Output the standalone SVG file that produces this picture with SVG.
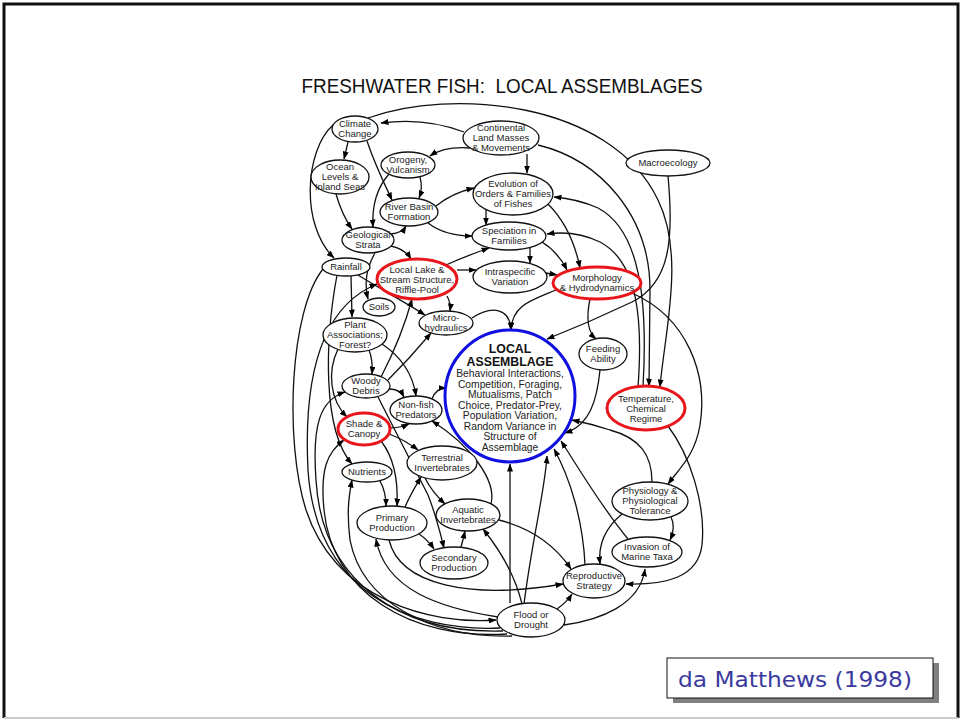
<svg xmlns="http://www.w3.org/2000/svg" width="961" height="720" viewBox="0 0 961 720">
<defs>
<marker id="a" markerWidth="8" markerHeight="6" refX="7.5" refY="3" orient="auto" markerUnits="userSpaceOnUse"><path d="M0,0 L8,3 L0,6 z" fill="#000"/></marker>
<style>
.n ellipse{fill:#fff;stroke:#111;stroke-width:1.3}
.r ellipse{stroke:#e8161b;stroke-width:3}
.b ellipse{stroke:#1010e0;stroke-width:3}
text{font-family:"Liberation Sans",Arial,sans-serif;font-size:9.5px;text-anchor:middle;fill:#222}
.c path{fill:none;stroke:#111;stroke-width:1.3;marker-end:url(#a)}
.c path.p{marker-end:none}
</style>
</defs>
<rect width="961" height="720" fill="#fff"/>
<path d="M4,718 V4 H958 V718" fill="none" stroke="#111" stroke-width="3"/>
<line x1="4" y1="718" x2="958" y2="718" stroke="#ccc" stroke-width="2"/>
<text x="502" y="93" xml:space="preserve" style="font-size:20px;fill:#111" textLength="401" lengthAdjust="spacingAndGlyphs">FRESHWATER FISH:  LOCAL ASSEMBLAGES</text>

<g id="connectors" class="c">
<path d="M464,132 Q425,117 381,123"/>
<path d="M348,142 L344,159"/>
<path d="M367,141 C375,165 385,185 392,200"/>
<path d="M333,125 C305,150 300,225 334,258"/>
<path d="M470,148 Q445,146 430,156"/>
<path d="M527,154 L527,173"/>
<path d="M420,177 Q423,188 419,198"/>
<path d="M389,174 C375,190 372,210 373,227"/>
<path d="M336,194 Q342,215 352,229"/>
<path d="M436,206 Q452,193 474,188"/>
<path d="M428,223 Q445,236 472,236"/>
<path d="M391,234 Q402,233 406,226"/>
<path d="M391,246 Q405,249 411,259"/>
<path d="M375,253 Q362,275 368,299"/>
<path d="M486,209 L486,225"/>
<path d="M446,265 Q466,256 489,248"/>
<path d="M457,270 L476,270"/>
<path d="M530,248 L530,263"/>
<path d="M542,242 Q558,252 567,270"/>
<path d="M548,204 Q572,228 580,268"/>
<path d="M546,273 L557,275"/>
<path d="M368,118 C450,88 610,100 658,200 C685,255 665,330 660,387"/>
<path d="M538,145 C600,160 650,215 650,290 L649,386"/>
<path d="M668,176 C674,240 670,283 632,302 Q590,322 547,339"/>
<path class="p" d="M643,387 C648,300 640,230 598,208"/>
<path d="M598,208 Q578,199 554,197"/>
<path d="M638,387 C643,320 638,262 600,242 Q575,230 547,234"/>
<path d="M590,299 C586,318 588,332 596,339"/>
<path d="M632,293 C688,318 708,375 700,425 C695,455 680,468 668,484"/>
<path d="M652,482 C652,455 640,438 610,430 Q592,424 572,420"/>
<path d="M668,426 C690,455 706,505 702,545 C698,578 665,585 626,584"/>
<path d="M600,370 C597,400 590,425 565,433"/>
<path d="M628,539 C600,505 580,470 561,441"/>
<path d="M585,565 C583,520 570,478 554,449"/>
<path d="M524,604 C532,540 545,490 547,456"/>
<path d="M510,603 L510,464"/>
<path d="M557,609 Q567,602 572,594"/>
<path d="M564,625 C600,620 640,605 645,569"/>
<path d="M622,514 C605,528 598,545 600,564"/>
<path d="M671,517 Q676,527 670,540"/>
<path d="M351,276 L352,317"/>
<path d="M358,275 C382,290 405,302 425,315"/>
<path d="M447,296 Q451,303 450,311"/>
<path d="M381,377 C395,350 405,325 412,299"/>
<path d="M388,380 Q410,358 431,333"/>
<path d="M389,389 Q400,389 404,397"/>
<path d="M369,350 Q373,360 372,374"/>
<path d="M382,344 C403,358 413,375 416,396"/>
<path d="M338,349 C327,372 330,400 347,417"/>
<path d="M389,428 Q400,428 409,424"/>
<path d="M389,434 Q405,440 418,450"/>
<path d="M432,399 Q436,388 446,388"/>
<path d="M472,318 C492,305 510,308 511,330"/>
<path d="M556,290 C532,300 512,305 511,330"/>
<path d="M337,275 C325,340 322,430 352,464"/>
<path d="M380,481 Q386,492 386,506"/>
<path d="M381,441 C396,460 398,485 397,506"/>
<path d="M405,507 C410,495 415,487 421,477"/>
<path d="M425,478 Q432,492 445,504"/>
<path d="M378,397 C400,440 415,470 428,495 C436,515 440,532 444,548"/>
<path d="M419,534 Q428,540 434,549"/>
<path d="M461,547 Q463,540 465,531"/>
<path d="M522,604 C515,575 500,550 483,529"/>
<path d="M499,520 C530,528 555,545 571,569"/>
<path d="M491,504 C497,480 470,445 432,421"/>
<path d="M389,540 C400,585 470,600 563,584"/>
<path d="M498,617 C440,608 385,590 376,539"/>
<path d="M323,269 C290,310 284,440 306,510 C336,600 430,625 496,620"/>
<path d="M500,628 C410,632 316,592 308,470 C303,370 325,305 377,284"/>
<path d="M503,631 C400,634 322,582 316,480 C312,425 320,400 345,392"/>
<path d="M507,634 C410,640 332,592 324,510 C320,470 327,452 344,440"/>
<path d="M512,636 C430,638 362,602 350,540 C347,515 348,500 352,480"/>
</g>

<g id="climate-change" class="n"><ellipse cx="355" cy="129" rx="23" ry="13"/><text><tspan x="355" y="127.3">Climate</tspan><tspan x="355" y="137.3">Change</tspan></text></g>
<g id="continental" class="n"><ellipse cx="501" cy="138" rx="38" ry="17"/><text><tspan x="501" y="131.3">Continental</tspan><tspan x="501" y="141.3">Land Masses</tspan><tspan x="501" y="151.3">&amp; Movements</tspan></text></g>
<g id="macroecology" class="n"><ellipse cx="668" cy="163" rx="42" ry="13"/><text x="668" y="166.3">Macroecology</text></g>
<g id="ocean-levels" class="n"><ellipse cx="340" cy="177" rx="29" ry="17"/><text><tspan x="340" y="170.3">Ocean</tspan><tspan x="340" y="180.3">Levels &amp;</tspan><tspan x="340" y="190.3">Inland Seas</tspan></text></g>
<g id="orogeny" class="n"><ellipse cx="408" cy="165" rx="27" ry="13"/><text><tspan x="408" y="163.3">Orogeny,</tspan><tspan x="408" y="173.3">Vulcanism</tspan></text></g>
<g id="evolution" class="n"><ellipse cx="513" cy="194" rx="40" ry="21"/><text><tspan x="513" y="187.3">Evolution of</tspan><tspan x="513" y="197.3">Orders &amp; Families</tspan><tspan x="513" y="207.3">of Fishes</tspan></text></g>
<g id="river-basin" class="n"><ellipse cx="409" cy="212" rx="29" ry="14"/><text><tspan x="409" y="210.3">River Basin</tspan><tspan x="409" y="220.3">Formation</tspan></text></g>
<g id="geological-strata" class="n"><ellipse cx="368" cy="240" rx="26" ry="13"/><text><tspan x="368" y="238.3">Geological</tspan><tspan x="368" y="248.3">Strata</tspan></text></g>
<g id="speciation" class="n"><ellipse cx="509" cy="236" rx="37" ry="14"/><text><tspan x="509" y="234.3">Speciation in</tspan><tspan x="509" y="244.3">Families</tspan></text></g>
<g id="rainfall" class="n"><ellipse cx="346" cy="267" rx="24" ry="9"/><text x="346" y="270.3">Rainfall</text></g>
<g id="local-lake" class="n r"><ellipse cx="417" cy="279" rx="40" ry="20"/><text><tspan x="417" y="273.3">Local Lake &amp;</tspan><tspan x="417" y="283.3">Stream Structure,</tspan><tspan x="417" y="293.3">Riffle-Pool</tspan></text></g>
<g id="intraspecific" class="n"><ellipse cx="510" cy="277" rx="37" ry="16"/><text><tspan x="510" y="275.3">Intraspecific</tspan><tspan x="510" y="285.3">Variation</tspan></text></g>
<g id="morphology" class="n r"><ellipse cx="597" cy="283" rx="44" ry="16"/><text><tspan x="597" y="281.3">Morphology</tspan><tspan x="597" y="291.3">&amp; Hydrodynamics</tspan></text></g>
<g id="soils" class="n"><ellipse cx="379" cy="307" rx="16" ry="9"/><text x="379" y="310.3">Soils</text></g>
<g id="micro-hydraulics" class="n"><ellipse cx="446" cy="323" rx="27" ry="12"/><text><tspan x="446" y="321.3">Micro-</tspan><tspan x="446" y="331.3">hydraulics</tspan></text></g>
<g id="plant-associations" class="n"><ellipse cx="355" cy="335" rx="32" ry="17"/><text><tspan x="355" y="328.3">Plant</tspan><tspan x="355" y="338.3">Associations;</tspan><tspan x="355" y="348.3">Forest?</tspan></text></g>
<g id="local-assemblage" class="n b"><ellipse cx="510" cy="396" rx="65" ry="66"/>
<text style="font-size:12.3px;font-weight:bold;fill:#111"><tspan x="510" y="352.5">LOCAL</tspan><tspan x="510" y="365.5">ASSEMBLAGE</tspan></text>
<text style="font-size:10.3px"><tspan x="510" y="377">Behavioral Interactions,</tspan><tspan x="510" y="387.5">Competition, Foraging,</tspan><tspan x="510" y="398">Mutualisms, Patch</tspan><tspan x="510" y="408.5">Choice, Predator-Prey,</tspan><tspan x="510" y="419">Population Variation,</tspan><tspan x="510" y="429.5">Random Variance in</tspan><tspan x="510" y="440">Structure of</tspan><tspan x="510" y="450.5">Assemblage</tspan></text></g>
<g id="feeding-ability" class="n"><ellipse cx="603" cy="354" rx="24" ry="16"/><text><tspan x="603" y="352.3">Feeding</tspan><tspan x="603" y="362.3">Ability</tspan></text></g>
<g id="woody-debris" class="n"><ellipse cx="366" cy="386" rx="24" ry="12"/><text><tspan x="366" y="384.3">Woody</tspan><tspan x="366" y="394.3">Debris</tspan></text></g>
<g id="non-fish-predators" class="n"><ellipse cx="416" cy="410" rx="26" ry="14"/><text><tspan x="416" y="408.3">Non-fish</tspan><tspan x="416" y="418.3">Predators</tspan></text></g>
<g id="temperature" class="n r"><ellipse cx="646" cy="408" rx="39" ry="22"/><text><tspan x="646" y="402.3">Temperature,</tspan><tspan x="646" y="412.3">Chemical</tspan><tspan x="646" y="422.3">Regime</tspan></text></g>
<g id="shade-canopy" class="n r"><ellipse cx="364" cy="429" rx="26" ry="16"/><text><tspan x="364" y="427.3">Shade &amp;</tspan><tspan x="364" y="437.3">Canopy</tspan></text></g>
<g id="terrestrial-invertebrates" class="n"><ellipse cx="442" cy="463" rx="35" ry="17"/><text><tspan x="442" y="461.3">Terrestrial</tspan><tspan x="442" y="471.3">Invertebrates</tspan></text></g>
<g id="nutrients" class="n"><ellipse cx="367" cy="472" rx="25" ry="10"/><text x="367" y="475.3">Nutrients</text></g>
<g id="physiology" class="n"><ellipse cx="650" cy="501" rx="38" ry="19"/><text><tspan x="650" y="494.3">Physiology &amp;</tspan><tspan x="650" y="504.3">Physiological</tspan><tspan x="650" y="514.3">Tolerance</tspan></text></g>
<g id="primary-production" class="n"><ellipse cx="392" cy="523" rx="35" ry="17"/><text><tspan x="392" y="521.3">Primary</tspan><tspan x="392" y="531.3">Production</tspan></text></g>
<g id="aquatic-invertebrates" class="n"><ellipse cx="468" cy="515" rx="32" ry="16"/><text><tspan x="468" y="513.3">Aquatic</tspan><tspan x="468" y="523.3">Invertebrates</tspan></text></g>
<g id="invasion-marine-taxa" class="n"><ellipse cx="647" cy="552" rx="35" ry="15"/><text><tspan x="647" y="550.3">Invasion of</tspan><tspan x="647" y="560.3">Marine Taxa</tspan></text></g>
<g id="secondary-production" class="n"><ellipse cx="454" cy="563" rx="34" ry="16"/><text><tspan x="454" y="561.3">Secondary</tspan><tspan x="454" y="571.3">Production</tspan></text></g>
<g id="reproductive-strategy" class="n"><ellipse cx="594" cy="581" rx="31" ry="17"/><text><tspan x="594" y="579.3">Reproductive</tspan><tspan x="594" y="589.3">Strategy</tspan></text></g>
<g id="flood-drought" class="n"><ellipse cx="531" cy="620" rx="34" ry="17"/><text><tspan x="531" y="618.3">Flood or</tspan><tspan x="531" y="628.3">Drought</tspan></text></g>

<g id="caption">
<rect x="673" y="663" width="266" height="40" fill="#808080"/>
<rect x="667" y="658" width="266" height="40" fill="#fff" stroke="#111" stroke-width="1"/>
<text x="678" y="687" style="font-family:'DejaVu Sans',Verdana,sans-serif;font-size:21px;fill:#3a3a9e;text-anchor:start" textLength="234" lengthAdjust="spacingAndGlyphs">da Matthews (1998)</text>
</g>
</svg>
